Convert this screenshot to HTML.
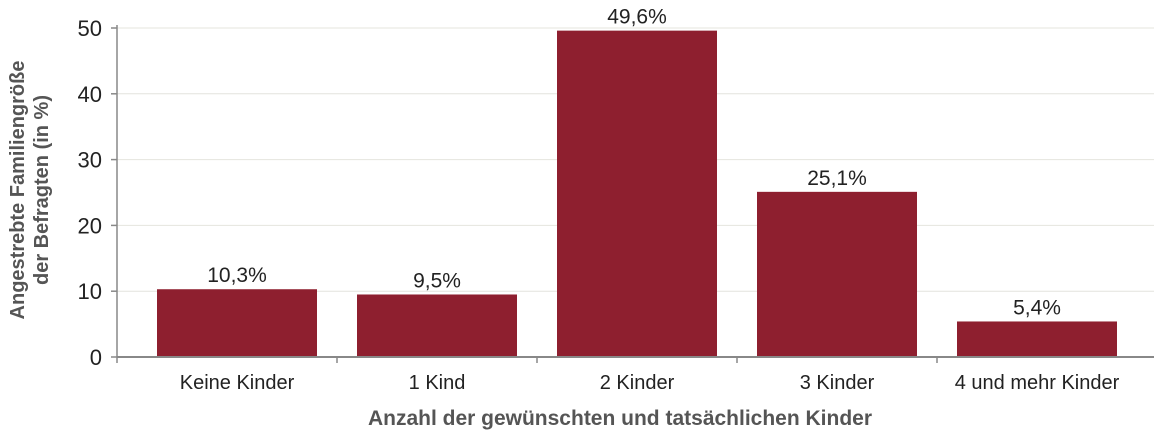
<!DOCTYPE html>
<html><head><meta charset="utf-8"><style>
body{margin:0;background:#fff;}
svg{display:block;font-family:"Liberation Sans Narrow","Liberation Sans",sans-serif;}
</style></head><body>
<svg id="chart" width="1154" height="434">
<g id="grid"></g><g id="bars"></g><g id="axes"></g>
<text transform="translate(24,190) rotate(-90)" text-anchor="middle" font-size="20" font-weight="bold" fill="#555">Angestrebte Familiengröße</text>
<text transform="translate(48,190) rotate(-90)" text-anchor="middle" font-size="20" font-weight="bold" fill="#555">der Befragten (in %)</text>
<text x="620" y="425" text-anchor="middle" font-size="21" font-weight="bold" fill="#555">Anzahl der gewünschten und tatsächlichen Kinder</text>
</svg>
<script>
const categories=["Keine Kinder","1 Kind","2 Kinder","3 Kinder","4 und mehr Kinder"];
const values=[10.3,9.5,49.6,25.1,5.4];
const valueLabels=["10,3%","9,5%","49,6%","25,1%","5,4%"];
const yTicks=[0,10,20,30,40,50];
const NS="http://www.w3.org/2000/svg";
const y0=357,yTop=28,yMax=50;
function y(v){return y0-(v/yMax)*(y0-yTop);}
function xc(i){return 237+200*i;}
function mk(t,a,p){const e=document.createElementNS(NS,t);for(const k in a)e.setAttribute(k,a[k]);p.appendChild(e);return e;}
const grid=document.getElementById('grid'),bars=document.getElementById('bars'),axes=document.getElementById('axes');
yTicks.forEach(t=>{
  if(t>0){const g=mk('line',{x1:117,x2:1154,y1:y(t),y2:y(t),stroke:'#e4e4de','stroke-width':1},grid);
  
  }
  const tk=mk('line',{x1:111,x2:117,y1:y(t),y2:y(t),stroke:'#888','stroke-width':1.5},axes);
  
  
  const l=mk('text',{x:102,y:y(t)+8,'text-anchor':'end','font-size':22,fill:'#222'},axes);
  l.textContent=t;
  
  
});
values.forEach((v,i)=>{
  const r=mk('rect',{x:xc(i)-80,y:y(v),width:160,height:y0-y(v),fill:'#8e1f2f'},bars);
  
  
  const t=mk('text',{x:xc(i),y:y(v)-7,'text-anchor':'middle','font-size':21,fill:'#222'},bars);
  t.textContent=valueLabels[i];
  
  
  const c=mk('text',{x:xc(i),y:389,'text-anchor':'middle','font-size':20,fill:'#222'},axes);
  c.textContent=categories[i];
  
  
  if(i<categories.length-1){const tk=mk('line',{x1:xc(i)+100,x2:xc(i)+100,y1:y0,y2:y0+6,stroke:'#888','stroke-width':1.5},axes);
  
  }
});
const ya=mk('line',{x1:117,x2:117,y1:yTop-3,y2:y0+6,stroke:'#888','stroke-width':1.5},axes);


const xa=mk('line',{x1:117,x2:1154,y1:y0,y2:y0,stroke:'#888','stroke-width':2},axes);


</script>
</body></html>
